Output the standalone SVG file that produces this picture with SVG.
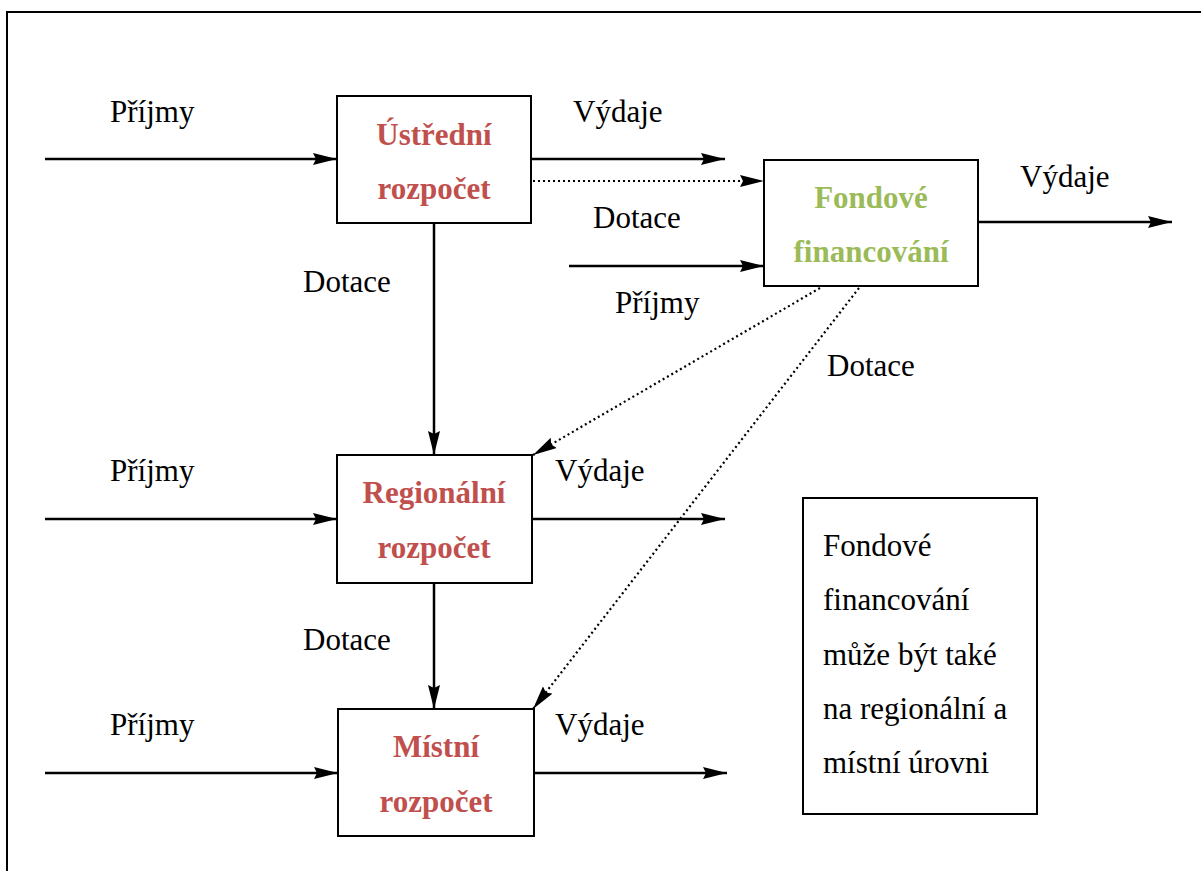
<svg xmlns="http://www.w3.org/2000/svg" width="1201" height="871" viewBox="0 0 1201 871">
  <style>
    .lbl { font-family: "Liberation Serif", "DejaVu Serif", serif; font-size: 31px; fill: #000; }
    .title { font-family: "Liberation Serif", "DejaVu Serif", serif; font-size: 31px; font-weight: bold; text-anchor: middle; }
    .red { fill: #c0504d; }
    .green { fill: #9bbb59; }
    .box { fill: #fff; stroke: #000; stroke-width: 2; }
    .flow { fill: none; stroke: #000; stroke-width: 2.5; marker-end: url(#arrow); }
    .dot { fill: none; stroke: #000; stroke-width: 2.2; stroke-dasharray: 2 3; marker-end: url(#arrow); }
  </style>
  <defs>
    <marker id="arrow" markerUnits="userSpaceOnUse" markerWidth="24" markerHeight="12" refX="24" refY="6" orient="auto">
      <path d="M0,0 L24,6 L0,12 L3,6 z" fill="#000"/>
    </marker>
  </defs>

  <rect width="1201" height="871" fill="#fff"/>
  <!-- page frame -->
  <path d="M7,1000 V12 H1300" fill="none" stroke="#000" stroke-width="2"/>

  <g id="connectors">
    <!-- central budget -->
    <line class="flow" x1="45" y1="159" x2="337" y2="159"/>
    <line class="flow" x1="531" y1="159" x2="725" y2="159"/>
    <line class="dot" x1="533" y1="181" x2="764" y2="181"/>
    <line class="flow" x1="434" y1="223" x2="434" y2="455"/>
    <!-- fund financing -->
    <line class="flow" x1="569" y1="266" x2="764" y2="266"/>
    <line class="flow" x1="978" y1="222" x2="1172" y2="222"/>
    <line class="dot" x1="820" y1="288" x2="533" y2="455"/>
    <line class="dot" x1="859" y1="288" x2="533" y2="709"/>
    <!-- regional budget -->
    <line class="flow" x1="45" y1="519" x2="337" y2="519"/>
    <line class="flow" x1="532" y1="519" x2="725" y2="519"/>
    <line class="flow" x1="434" y1="583" x2="434" y2="709"/>
    <!-- local budget -->
    <line class="flow" x1="45" y1="773" x2="338" y2="773"/>
    <line class="flow" x1="534" y1="773" x2="727" y2="773"/>
  </g>

  <g id="labels">
    <text class="lbl" x="110" y="122">Příjmy</text>
    <text class="lbl" x="573" y="122">Výdaje</text>
    <text class="lbl" x="593" y="228">Dotace</text>
    <text class="lbl" x="615" y="313">Příjmy</text>
    <text class="lbl" x="1020" y="187">Výdaje</text>
    <text class="lbl" x="303" y="292">Dotace</text>
    <text class="lbl" x="827" y="376">Dotace</text>
    <text class="lbl" x="110" y="481">Příjmy</text>
    <text class="lbl" x="555" y="481">Výdaje</text>
    <text class="lbl" x="303" y="650">Dotace</text>
    <text class="lbl" x="110" y="735">Příjmy</text>
    <text class="lbl" x="555" y="735">Výdaje</text>
  </g>

  <g id="ustredni">
    <rect class="box" x="337" y="96" width="194" height="127"/>
    <text class="title red" x="434" y="145">Ústřední</text>
    <text class="title red" x="434" y="199">rozpočet</text>
  </g>

  <g id="fondove">
    <rect class="box" x="764" y="160" width="214" height="126"/>
    <text class="title green" x="871" y="208">Fondové</text>
    <text class="title green" x="871" y="262">financování</text>
  </g>

  <g id="regionalni">
    <rect class="box" x="337" y="455" width="195" height="128"/>
    <text class="title red" x="434" y="503">Regionální</text>
    <text class="title red" x="434" y="558">rozpočet</text>
  </g>

  <g id="mistni">
    <rect class="box" x="338" y="709" width="196" height="127"/>
    <text class="title red" x="436" y="757">Místní</text>
    <text class="title red" x="436" y="812">rozpočet</text>
  </g>

  <g id="note">
    <rect class="box" x="803" y="498" width="234" height="316"/>
    <text class="lbl" x="823" y="556">Fondové</text>
    <text class="lbl" x="823" y="610">financování</text>
    <text class="lbl" x="823" y="665">může být také</text>
    <text class="lbl" x="823" y="719">na regionální a</text>
    <text class="lbl" x="823" y="773">místní úrovni</text>
  </g>
</svg>
